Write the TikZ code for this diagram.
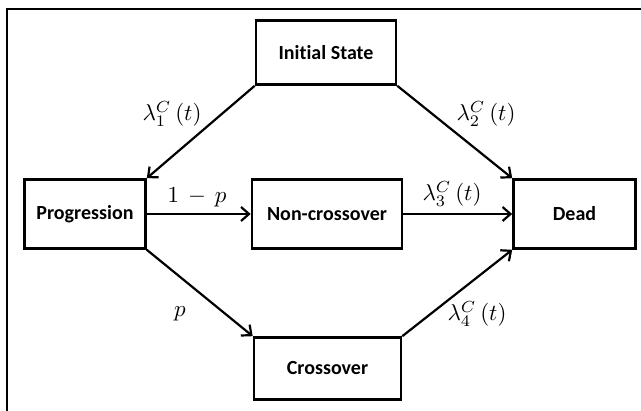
\documentclass[tikz,border=0pt]{standalone}
\usepackage{fontspec}
\setmainfont{Carlito}[Ligatures={NoCommon,NoRequired,NoContextual}]
\usetikzlibrary{arrows.meta}
\tikzset{
  state/.style={draw, line width=2.6pt, font=\fontsize{20}{22}\selectfont\bfseries, inner sep=0pt, anchor=center},
  conn/.style={line width=2.2pt, -{Straight Barb[length=8pt,width=14pt,line width=2.2pt]}},
  lab/.style={inner sep=0pt, anchor=center}
}
\newcommand{\biglab}[1]{\scalebox{2.3}{$#1$}}
\begin{document}
\begin{tikzpicture}[x=1pt,y=-1pt]
\useasboundingbox (0,0) rectangle (641,411);
\draw[line width=2.4pt] (7,411) -- (7,9) -- (641,9);
\node[state, minimum width=140pt, minimum height=64pt] (init) at (326,52.5) {Ini\kern0pt tial State};
\node[state, minimum width=121pt, minimum height=69pt] (prog) at (85,214) {Progression};
\node[state, minimum width=150pt, minimum height=69pt] (non) at (327,214) {Non-crossover};
\node[state, minimum width=122pt, minimum height=69pt] (dead) at (574.5,214) {Dead};
\node[state, minimum width=147pt, minimum height=62pt] (cross) at (327.5,368.5) {Crossover};
\draw[conn] (init.south west) -- (prog.north east);
\draw[conn] (init.south east) -- (dead.north west);
\draw[conn] (prog.east) -- (non.west);
\draw[conn] (non.east) -- (dead.west);
\draw[conn] (prog.south east) -- (cross.north west);
\draw[conn] (cross.north east) -- (dead.south west);
\node[lab] (l1) at (172,114) {\biglab{\lambda_1^{C}\,(t)}};
\node[lab] (l2) at (486,114) {\biglab{\lambda_2^{C}\,(t)}};
\node[lab] (l3) at (452,194) {\biglab{\lambda_3^{C}\,(t)}};
\node[lab] (l4) at (477,314) {\biglab{\lambda_4^{C}\,(t)}};
\node[lab] (lp1) at (197,197) {\biglab{1\,-\,p}};
\node[lab] (lp) at (180,314) {\biglab{p}};
\end{tikzpicture}
\end{document}
